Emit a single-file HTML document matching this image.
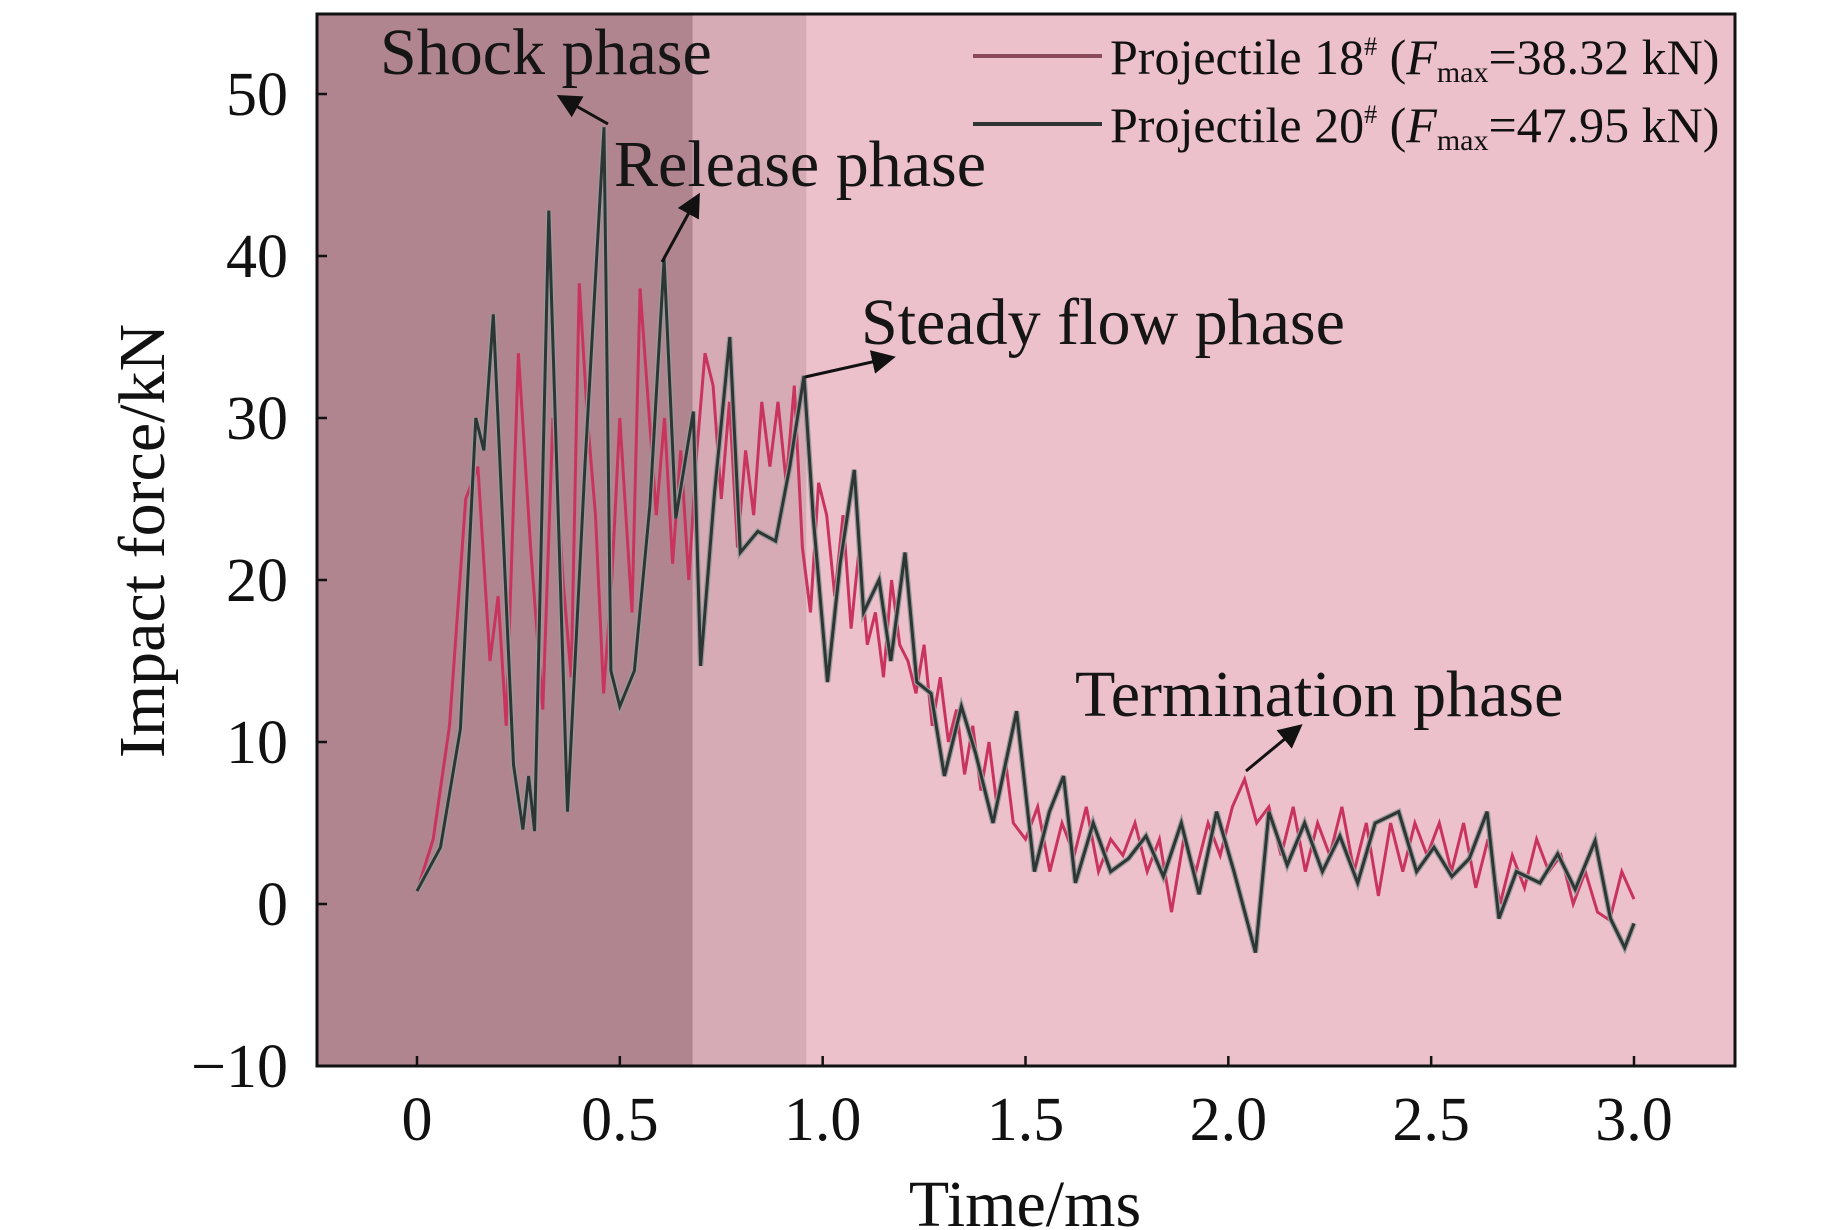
<!DOCTYPE html>
<html><head><meta charset="utf-8"><style>
html,body{margin:0;padding:0;background:#fff;}
svg{display:block;font-family:"Liberation Serif",serif;}
</style></head><body>
<svg id="chart" width="1843" height="1230" viewBox="0 0 1843 1230" xmlns="http://www.w3.org/2000/svg">
<defs><marker id="ah" markerWidth="8" markerHeight="8" refX="6" refY="4" orient="auto" markerUnits="strokeWidth"><path d="M0,0 L8,4 L0,8 z" fill="#111"/></marker></defs>
<g id="bg"></g>
<g id="series"></g>
<g id="axes"></g>
<g id="annot"></g>
</svg>
<script>
const xTicks=[0,0.5,1.0,1.5,2.0,2.5,3.0];
const xTickLabels=["0","0.5","1.0","1.5","2.0","2.5","3.0"];
const yTicks=[-10,0,10,20,30,40,50];
const yTickLabels=["\u221210","0","10","20","30","40","50"];
const phaseBounds=[-0.25,0.68,0.96,3.25];
const phaseNames=["shock-phase-region","release-phase-region","steady-flow-region"];
const t20=[0,0.058,0.107,0.145,0.165,0.188,0.238,0.261,0.275,0.29,0.325,0.371,0.414,0.461,0.478,0.5,0.536,0.574,0.609,0.638,0.681,0.699,0.733,0.771,0.797,0.84,0.884,0.919,0.954,0.977,1.012,1.043,1.078,1.101,1.139,1.168,1.203,1.232,1.267,1.3,1.342,1.377,1.42,1.478,1.522,1.559,1.594,1.623,1.667,1.71,1.754,1.797,1.84,1.884,1.928,1.971,2.014,2.067,2.1,2.145,2.188,2.232,2.275,2.319,2.362,2.42,2.464,2.507,2.551,2.594,2.638,2.667,2.71,2.768,2.812,2.855,2.904,2.942,2.977,3.0];
const f20=[0.8,3.5,10.8,30,28,36.4,8.6,4.6,7.9,4.5,42.8,5.7,27,47.95,14.4,12.2,14.4,24.6,39.8,23.8,30.4,14.7,25.3,35,21.7,23,22.4,27,32.6,23.8,13.7,21,26.8,18,20,15,21.7,13.7,13,7.9,12.2,9.3,5,11.9,2,5.7,7.9,1.3,5,2,2.8,4.2,1.7,5,0.6,5.7,2,-3,5.7,2.4,5,2,4.2,1.3,5,5.7,2,3.5,1.7,2.8,5.7,-0.9,2,1.3,3.1,0.9,3.9,-0.9,-2.7,-1.2];
const t18=[0,0.04,0.08,0.12,0.15,0.18,0.2,0.22,0.25,0.28,0.31,0.335,0.36,0.38,0.4,0.42,0.44,0.46,0.48,0.5,0.53,0.55,0.57,0.59,0.61,0.63,0.65,0.67,0.69,0.71,0.73,0.75,0.77,0.79,0.81,0.83,0.85,0.87,0.89,0.91,0.93,0.95,0.97,0.99,1.01,1.03,1.05,1.07,1.09,1.11,1.13,1.15,1.17,1.19,1.21,1.23,1.25,1.27,1.29,1.31,1.33,1.35,1.37,1.39,1.41,1.43,1.45,1.47,1.5,1.53,1.56,1.59,1.62,1.65,1.68,1.71,1.74,1.77,1.8,1.83,1.86,1.89,1.92,1.95,1.98,2.01,2.04,2.07,2.1,2.13,2.16,2.19,2.22,2.25,2.28,2.31,2.34,2.37,2.4,2.43,2.46,2.49,2.52,2.55,2.58,2.61,2.64,2.67,2.7,2.73,2.76,2.79,2.82,2.85,2.88,2.91,2.94,2.97,3.0];
const f18=[0.8,4,11,25,27,15,19,11,34,22,12,30,20,14,38.32,30,24,13,20,30,18,38,31,24,30,21,28,20,28,34,32,25,31,22,28,24,31,27,31,26,32,22,18,26,24,19,24,17,22,16,18,14,20,16,15,13,16,11,14,10,12,8,11,7,10,6,9,5,4,6,2,5,3,6,2,4,3,5,2,4,-0.5,4,2,5,3,6,7.7,5,6,3,6,2,5,3,6,2,5,0.5,5,2,5,3,5,2,5,1,4,0,3,1,4,2,3,0,2,-0.5,-1,2,0.3];

const L=317,R=1735,T=14,B=1066;
const X=t=>417+(t-0)*(1634-417)/3;
const Y=v=>1066-(v+10)*(1066-94)/60;
const NS="http://www.w3.org/2000/svg";
function mk(tag,attrs,parent){const e=document.createElementNS(NS,tag);for(const k in attrs)e.setAttribute(k,attrs[k]);parent.appendChild(e);return e;}
const bg=document.getElementById('bg'),ser=document.getElementById('series'),ax=document.getElementById('axes'),an=document.getElementById('annot');
const cols=["#b0858f","#d6abb6","#ecc1cc"];
for(let i=0;i<3;i++){
  const x0=Math.max(L,X(phaseBounds[i])),x1=Math.min(R,X(phaseBounds[i+1]));
  const r=mk('rect',{x:x0,y:T,width:x1-x0,height:B-T,fill:cols[i]},bg);
  
  
}
function line(ts,fs,color,w,name){
  const d=ts.map((t,i)=>(i?'L':'M')+X(t).toFixed(1)+','+Y(fs[i]).toFixed(1)).join(' ');
  const p=mk('path',{d:d,fill:'none',stroke:color,'stroke-width':w,'stroke-linejoin':'miter'},ser);
  
  
}
line(t18,f18,"#c9345e",3,"series-projectile-18");
line(t20,f20,"#9a9a9a",5.5,"series-projectile-20-halo");
line(t20,f20,"#2e3535",3,"series-projectile-20");
const fr=mk('rect',{x:L,y:T,width:R-L,height:B-T,fill:'none',stroke:'#111','stroke-width':3},ax);


xTicks.forEach((t,i)=>{
  mk('line',{x1:X(t),x2:X(t),y1:B,y2:B-10,stroke:'#111','stroke-width':2.5},ax);
  const tx=mk('text',{x:X(t),y:1140,'font-size':62,'text-anchor':'middle',fill:'#111'},ax);
  tx.textContent=xTickLabels[i];
  
  
});
yTicks.forEach((v,i)=>{
  mk('line',{x1:L,x2:L+10,y1:Y(v),y2:Y(v),stroke:'#111','stroke-width':2.5},ax);
  const tx=mk('text',{x:288,y:Y(v)+21,'font-size':62,'text-anchor':'end',fill:'#111'},ax);
  tx.textContent=yTickLabels[i];
  
  
});
</script>
<script>
(function(){
const an=document.getElementById('annot');const NS="http://www.w3.org/2000/svg";
function mk(tag,attrs){const e=document.createElementNS(NS,tag);for(const k in attrs)e.setAttribute(k,attrs[k]);an.appendChild(e);return e;}
let e;
e=mk('text',{x:1025,y:1226,'font-size':66,'text-anchor':'middle',fill:'#111'});e.textContent='Time/ms';


e=mk('text',{x:0,y:0,'font-size':66,'text-anchor':'middle',fill:'#111',transform:'translate(164,541) rotate(-90)'});e.textContent='Impact force/kN';


const labels=[["Shock phase",380,74,"shock-phase-label"],["Release phase",614,186,"release-phase-label"],["Steady flow phase",861,344,"steady-flow-phase-label"],["Termination phase",1075,716,"termination-phase-label"]];
labels.forEach(l=>{e=mk('text',{x:l[1],y:l[2],'font-size':66,fill:'#151515'});e.textContent=l[0];

});
const arrows=[[608,124,562,98],[662,262,697,198],[805,377,890,358],[1246,771,1298,728]];
arrows.forEach(a=>{e=mk('line',{x1:a[0],y1:a[1],x2:a[2],y2:a[3],stroke:'#111','stroke-width':3,'marker-end':'url(#ah)'});

});
const leg=[[56,"#8a4a5a","18","38.32","legend-entry-18"],[124,"#2e3535","20","47.95","legend-entry-20"]];
leg.forEach(g=>{
 e=mk('line',{x1:973,x2:1102,y1:g[0],y2:g[0],stroke:g[1],'stroke-width':4});
 
 
 e=mk('text',{x:1110,y:g[0]+18,'font-size':50,fill:'#111'});
 e.innerHTML='Projectile '+g[2]+'<tspan font-size="26" dy="-19">#</tspan><tspan dy="19"> (</tspan><tspan font-style="italic">F</tspan><tspan font-size="30" dy="8">max</tspan><tspan dy="-8">='+g[3]+' kN)</tspan>';
 
 
});
})();
</script>
</body></html>
